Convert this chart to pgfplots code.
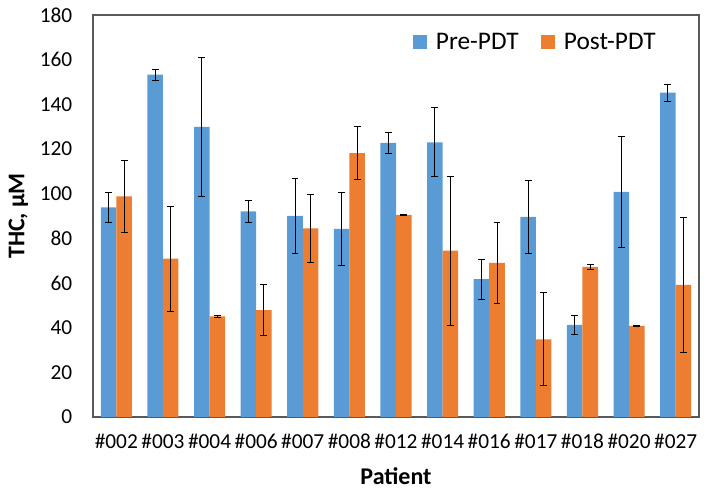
\documentclass[border=0pt]{standalone}
\usepackage{pgfplots}
\pgfplotsset{compat=1.18}
\usepackage{fontspec}
\setmainfont{Carlito}
\definecolor{preblue}{HTML}{5B9BD5}
\definecolor{postorange}{HTML}{ED7D31}
\begin{document}
\begin{tikzpicture}
\begin{axis}[
  scale only axis,
  width=454.5pt, height=301.5pt,
  ybar=0pt, bar width=11.65pt,
  ymin=0, ymax=180, ytick={0,20,...,180},
  xmin=-0.5, xmax=12.5,
  xtick={0,...,12},
  xticklabels={\#002,\#003,\#004,\#006,\#007,\#008,\#012,\#014,\#016,\#017,\#018,\#020,\#027},
  major tick length=0pt,
  axis line style={draw=black!65, line width=0.8pt},
  /pgf/number format/assume math mode=true,
  tick label style={font=\fontsize{16}{18}\selectfont},
  yticklabel style={xshift=-12pt},
  xticklabel style={yshift=-9.5pt},
  xlabel={\textbf{Patient}},
  ylabel={\textbf{THC, μM}},
  label style={font=\fontsize{18}{20}\selectfont},
  xlabel style={yshift=-7pt},
  ylabel style={yshift=2pt},
  legend columns=2,
  legend style={draw=none, fill=none, at={(0.94,0.933)}, anchor=east,
    font=\fontsize{19}{22}\selectfont,
    /tikz/every even column/.append style={column sep=15pt}},
  legend image code/.code={\fill[#1] (0pt,-5pt) rectangle (10pt,5pt); \path (0pt,0pt) -- (15pt,0pt);},
  error bars/error bar style={black, line width=0.7pt},
  error bars/error mark options={rotate=90, mark size=2.6pt, line width=0.7pt, black},
]
\addplot[fill=preblue, draw=none, error bars/.cd, y dir=both, y explicit]
  table[x=x, y=y, y error=e] {
x y e
0 93.9 6.7
1 153.3 2.5
2 129.9 31.0
3 92.1 4.9
4 90.0 17.0
5 84.2 16.4
6 122.7 4.6
7 123.0 15.5
8 61.7 8.9
9 89.6 16.3
10 41.2 4.1
11 100.8 24.9
12 145.2 3.8
};
\addlegendentry{Pre-PDT}
\addplot[fill=postorange, draw=none, error bars/.cd, y dir=both, y explicit]
  table[x=x, y=y, y error=e] {
x y e
0 98.8 16.1
1 70.9 23.5
2 45.1 0.4
3 47.8 11.4
4 84.5 15.3
5 118.2 12.0
6 90.5 0.3
7 74.5 33.4
8 69.0 18.1
9 34.8 20.8
10 67.2 1.2
11 40.8 0.3
12 59.2 30.2
};
\addlegendentry{Post-PDT}
\end{axis}
\path (current axis.south west) ++(-69.75pt,-54.75pt) (current axis.north east) ++(6.75pt,11.25pt);
\end{tikzpicture}
\end{document}
